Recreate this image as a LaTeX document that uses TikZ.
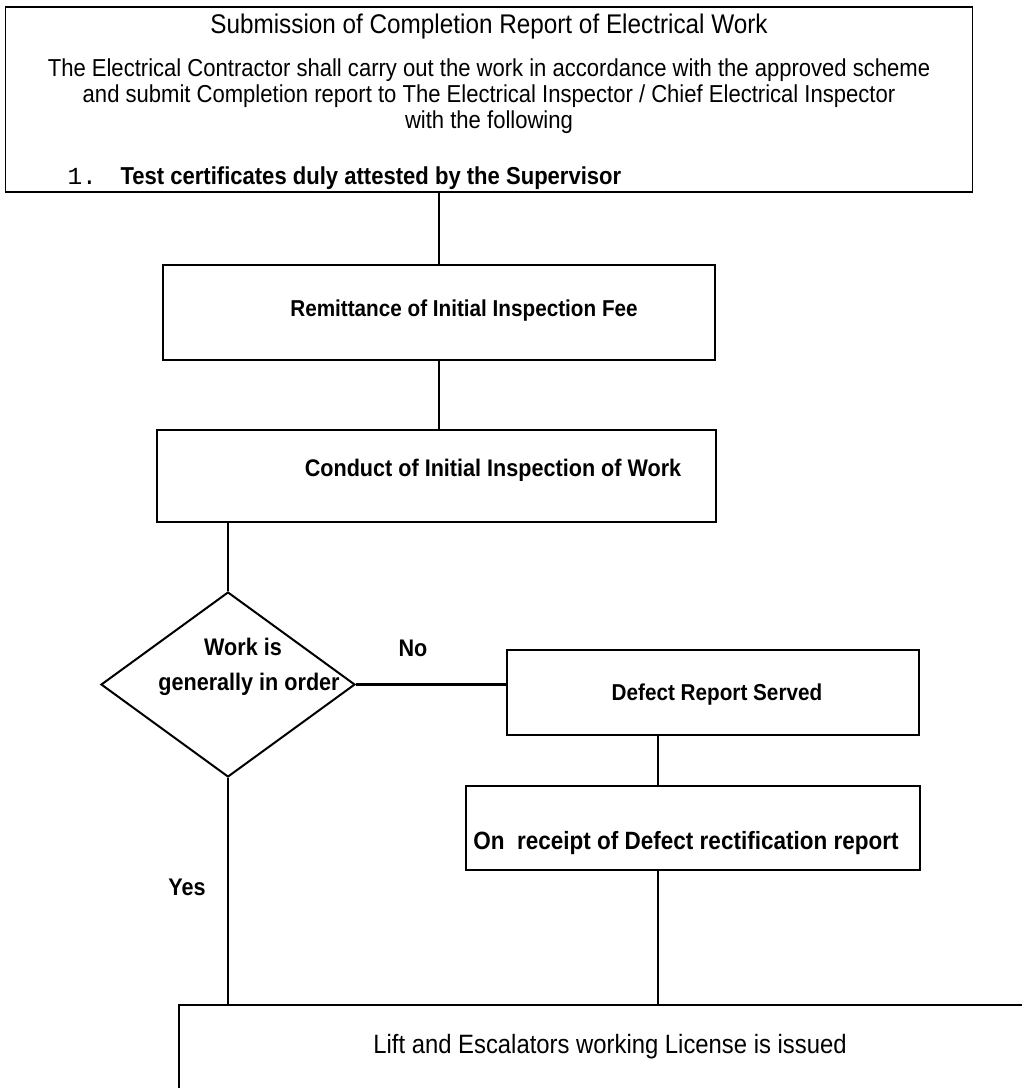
\documentclass[tikz,border=0pt]{standalone}
\usepackage{fontspec}
\setmainfont{Liberation Sans}[FakeStretch=0.9]
\newfontfamily\numfont{Liberation Mono}
\usetikzlibrary{shapes.geometric}

\begin{document}
\begin{tikzpicture}[x=1pt,y=-1pt,
		step node/.style={rectangle,draw,line width=1.8pt,inner sep=0pt},
		decision node/.style={diamond,draw,line width=2pt,inner sep=0pt},
		plain text/.style={font=\fontsize{24.5}{26}\selectfont},
		bold text/.style={font=\fontsize{23}{26}\selectfont\bfseries}]

		\useasboundingbox (0,0) rectangle (1022,1088);
		\clip (0,0) rectangle (1022,1088);

		% boxes
		\node[step node,minimum width=967pt,minimum height=185pt] (1) at (489,99.5) {};
		\node[step node,minimum width=552pt,minimum height=95pt] (2) at (439,312.5) {};
		\node[step node,minimum width=559pt,minimum height=92pt] (3) at (436.5,476) {};
		\node[decision node,minimum width=254pt,minimum height=185pt] (4) at (228,684.5) {};
		\node[step node,minimum width=412pt,minimum height=85pt] (5) at (713,692.5) {};
		\node[step node,minimum width=454pt,minimum height=84pt] (6) at (693,828) {};
		\node[step node,minimum width=900pt,minimum height=120pt] (7) at (629,1065) {};

		% texts
		\node[font=\fontsize{27}{30}\selectfont] (1a) at (489,27) {Submission of Completion Report of Electrical Work};
		\node[plain text,align=center] (1b) at (489,96) {The Electrical Contractor shall carry out the work in accordance with the approved scheme\\
			and submit Completion report to The Electrical Inspector / Chief Electrical Inspector\\
			with the following};
		\node[bold text,font=\fontsize{24.5}{26}\selectfont\bfseries,anchor=west] (1c) at (64,178) {\makebox[53pt][l]{\mdseries\numfont 1.}Test certificates duly attested by the Supervisor};
		\node[bold text] (2a) at (464,311) {Remittance of Initial Inspection Fee};
		\node[bold text,font=\fontsize{24}{26}\selectfont\bfseries] (3a) at (493,470) {Conduct of Initial Inspection of Work};
		\node[bold text,font=\fontsize{24}{26}\selectfont\bfseries,anchor=base] (4a) at (243,655) {Work is};
		\node[bold text,font=\fontsize{24}{26}\selectfont\bfseries,anchor=base] (4b) at (249,690) {generally in order};
		\node[bold text] (5a) at (717,695) {Defect Report Served};
		\node[bold text,font=\fontsize{25}{26}\selectfont\bfseries] (6a) at (686,843) {On\ \ receipt of Defect rectification report};
		\node[font=\fontsize{26.5}{30}\selectfont] (7a) at (610,1047) {Lift and Escalators working License is issued};
		\node[bold text,font=\fontsize{24}{26}\selectfont\bfseries] (no) at (413,648) {No};
		\node[bold text,font=\fontsize{24}{26}\selectfont\bfseries] (yes) at (187,887) {Yes};

		\path[every edge/.style={draw,line width=2.2pt}]
		(2.north) edge (2.north |- 1.south)
		(2.south) edge (2.south |- 3.north)
		(4.north) edge (4.north |- 3.south)
		(4.east) edge (4.east -| 5.west)
		([xshift=-55pt]5.south) edge ([xshift=-55pt]5.south |- 6.north)
		([xshift=-35pt]6.south) edge ([xshift=-35pt]6.south |- 7.north)
		(4.south) edge (4.south |- 7.north);
\end{tikzpicture}
\end{document}
